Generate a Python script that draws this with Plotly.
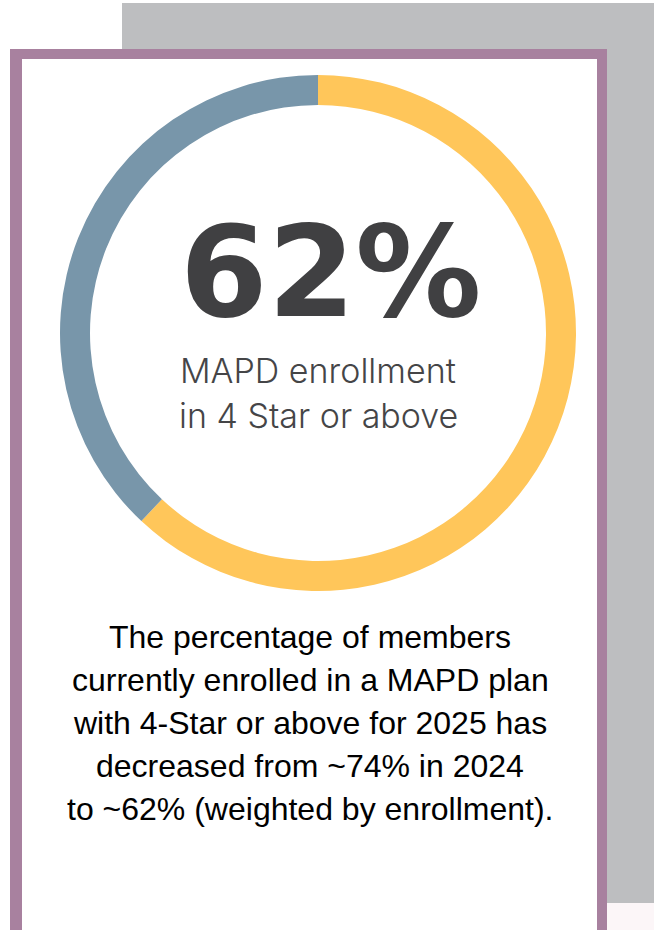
import plotly.graph_objects as go

W, H = 654, 930

# data
labels = ["4 Star or above", "Below 4 Star"]
values = [62, 38]
colors = ["#FFC65A", "#7896AA"]

headline = "62%"
subtitle_lines = ["MAPD enrollment", "in 4 Star or above"]
body_lines = [
    "The percentage of members",
    "currently enrolled in a MAPD plan",
    "with 4-Star or above for 2025 has",
    "decreased from ~74% in 2024",
    "to ~62% (weighted by enrollment).",
]

def px(x):
    return x / W

def py(y):
    return 1 - y / H

cx, cy, r = 318, 333, 258
ring = 30

fig = go.Figure()
fig.add_trace(go.Pie(
    labels=labels, values=values, sort=False, direction="clockwise", rotation=0,
    hole=(r - ring) / r,
    marker=dict(colors=colors, line=dict(width=0)),
    textinfo="none", showlegend=False, hoverinfo="label+percent",
    domain=dict(x=[px(cx - r), px(cx + r)], y=[py(cy + r), py(cy - r)]),
))

shapes = [
    dict(type="rect", xref="paper", yref="paper", x0=px(607), x1=px(654), y0=py(930), y1=py(903),
         fillcolor="#FCF6F8", line=dict(width=0), layer="below"),
    dict(type="rect", xref="paper", yref="paper", x0=px(122), x1=px(654), y0=py(903), y1=py(3),
         fillcolor="#BDBEC0", line=dict(width=0), layer="below"),
    dict(type="rect", xref="paper", yref="paper", x0=px(10), x1=px(607), y0=py(940), y1=py(49),
         fillcolor="#A8819F", line=dict(width=0), layer="below"),
    dict(type="rect", xref="paper", yref="paper", x0=px(22), x1=px(597), y0=py(940), y1=py(59),
         fillcolor="#FFFFFF", line=dict(width=0), layer="below"),
]

annotations = []
annotations.append(dict(
    text=headline, xref="paper", yref="paper", x=px(331), y=py(272), xanchor="center", yanchor="middle",
    showarrow=False, font=dict(family="DejaVu Sans", size=126, color="#404042", weight=700)))
for i, t in enumerate(subtitle_lines):
    base = 382 + 45 * i
    annotations.append(dict(
        text=t, xref="paper", yref="paper", x=px(318), y=py(base - 12), xanchor="center", yanchor="middle",
        showarrow=False, font=dict(family="Inter", size=34, color="#454547", weight=300)))
for i, t in enumerate(body_lines):
    base = 648 + 43 * i
    annotations.append(dict(
        text=t, xref="paper", yref="paper", x=px(310), y=py(base - 11), xanchor="center", yanchor="middle",
        showarrow=False, font=dict(family="Liberation Sans, Arial", size=32, color="#000000")))

fig.update_layout(
    width=W, height=H, margin=dict(l=0, r=0, t=0, b=0),
    paper_bgcolor="#FFFFFF", plot_bgcolor="#FFFFFF",
    shapes=shapes, annotations=annotations,
    xaxis=dict(visible=False), yaxis=dict(visible=False),
)

fig.write_html("out.html")
